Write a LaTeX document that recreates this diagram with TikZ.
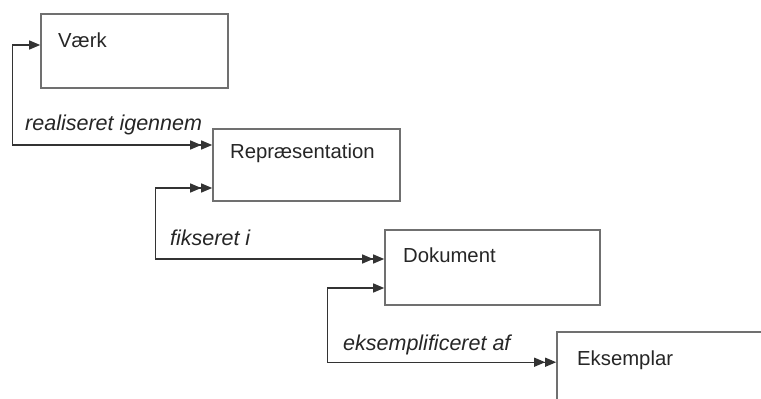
\documentclass[tikz,border=0pt]{standalone}
\usepackage{fontspec}
\setmainfont{Liberation Sans}
\usetikzlibrary{arrows.meta}
\definecolor{boxgray}{HTML}{707070}
\definecolor{linegray}{HTML}{333333}
\begin{document}
\begin{tikzpicture}[x=1pt,y=-1pt,
  >={Triangle[length=11pt,width=9pt]},
  box/.style={draw=boxgray, line width=1.6pt, fill=white, rectangle, inner sep=0pt},
  conn/.style={draw=linegray, line width=1.3pt, fill=none},
  boxlabel/.style={anchor=base west, inner sep=0pt, font=\fontsize{20.3}{24}\selectfont, text=black!85},
  rellabel/.style={anchor=base west, inner sep=0pt, font=\fontsize{21.5}{24}\selectfont\itshape, text=black!85}]
\clip (0,0) rectangle (761,399);
\fill[white] (0,0) rectangle (761,399);
\node[box, minimum width=187pt, minimum height=74pt] (vaerk) at (134.5,51) {};
\node[box, minimum width=187pt, minimum height=72pt] (rep) at (306.5,165) {};
\node[box, minimum width=215pt, minimum height=75pt] (dok) at (492.5,267.5) {};
\node[box, minimum width=233pt, minimum height=98pt] (eks) at (673.5,381) {};
\node[boxlabel] (vaerkt) at (58,47) {Værk};
\node[boxlabel] (rept) at (230,158) {Repræsentation};
\node[boxlabel] (dokt) at (403,262) {Dokument};
\node[boxlabel] (ekst) at (577,365) {Eksemplar};
\node[rellabel] (r1) at (25,130) {realiseret igennem};
\node[rellabel] (r2) at (170,245) {fikseret i};
\node[rellabel] (r3) at (343,350) {eksemplificeret af};
\draw[conn, {<}-{>>}] ([yshift=6pt]vaerk.west) -- ++(-28,0) |- ([yshift=20pt]rep.west);
\draw[conn, {<<}-{>>}] ([yshift=-23pt]rep.west) -- ++(-57,0) |- ([yshift=8.5pt]dok.west);
\draw[conn, {<}-{>>}] ([yshift=-20.5pt]dok.west) -- ++(-57,0) |- ([yshift=-31pt]eks.north west);
\end{tikzpicture}
\end{document}
